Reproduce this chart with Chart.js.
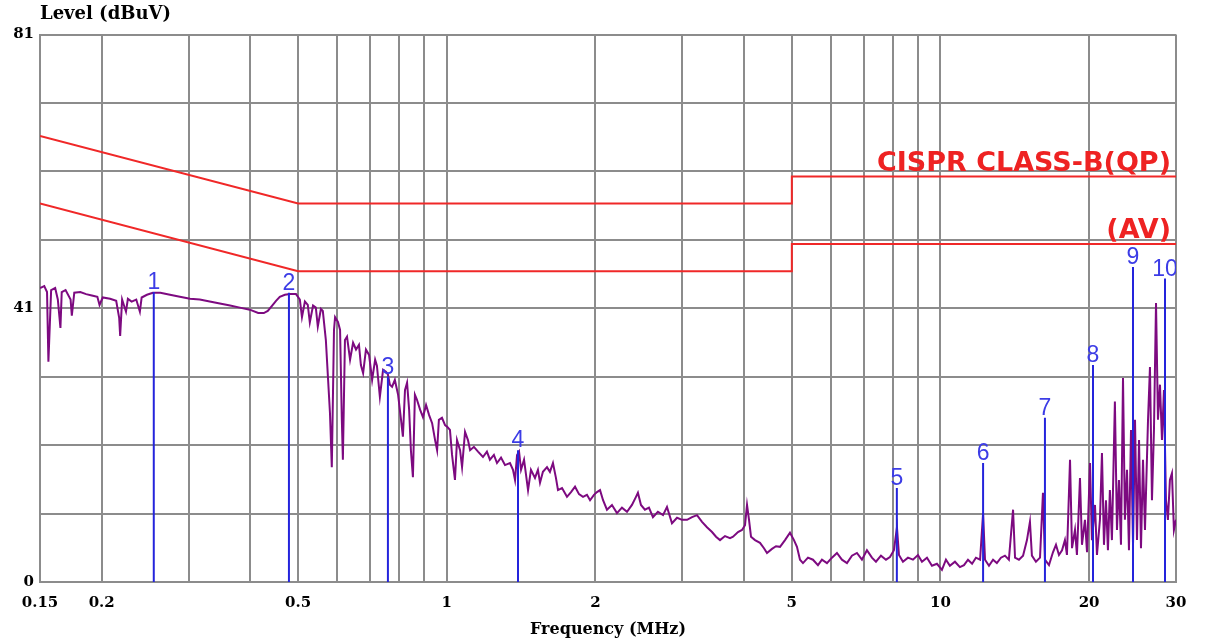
<!DOCTYPE html>
<html>
<head>
<meta charset="utf-8">
<title>Conducted Emission</title>
<script src="https://cdn.jsdelivr.net/npm/chart.js@4.4.1/dist/chart.umd.min.js"></script>
<style>
    html, body { margin: 0; padding: 0; background: #fff; }
    #wrap { width: 1214px; height: 642px; position: relative; }
</style>
</head>
<body>
<div id="wrap"><canvas id="EmissionGraph"></canvas></div>
<script>
// spectrum trace
var freqMHz = [
    0.150, 0.153, 0.155, 0.156, 0.158, 0.161, 0.163, 0.165, 0.166, 0.169, 0.173, 0.174, 0.176, 0.181, 0.186, 0.191, 0.196, 0.198, 0.201, 0.208,
    0.214, 0.217, 0.218, 0.220, 0.224, 0.226, 0.230, 0.235, 0.239, 0.241, 0.247, 0.254, 0.263, 0.275, 0.288, 0.302, 0.316, 0.331, 0.347, 0.364,
    0.381, 0.399, 0.415, 0.426, 0.434, 0.443, 0.451, 0.459, 0.470, 0.481, 0.495,
    0.504, 0.509, 0.516, 0.523, 0.528, 0.536, 0.543, 0.548, 0.556, 0.561, 0.569, 0.575, 0.580, 0.585, 0.591, 0.594, 0.602, 0.608, 0.613, 0.616,
    0.622, 0.628, 0.637, 0.646, 0.655, 0.664, 0.670, 0.677, 0.686, 0.696, 0.706, 0.716, 0.722, 0.732, 0.743, 0.753, 0.760, 0.767, 0.775, 0.785,
    0.797, 0.808, 0.815, 0.823, 0.831, 0.839, 0.846, 0.854, 0.862, 0.870, 0.883, 0.895, 0.908, 0.921, 0.934, 0.947, 0.956, 0.964, 0.978, 0.992,
    1.001, 1.015, 1.025, 1.039, 1.049, 1.064, 1.074, 1.089, 1.104, 1.115,
    1.135, 1.157, 1.184, 1.206, 1.223, 1.246, 1.264, 1.288, 1.312, 1.343, 1.362, 1.375, 1.388, 1.401, 1.414, 1.434, 1.461, 1.481, 1.509, 1.530,
    1.545, 1.566, 1.596, 1.618, 1.641, 1.664, 1.680, 1.712, 1.752, 1.785, 1.819, 1.853, 1.888, 1.923, 1.951, 1.987, 2.015, 2.044, 2.073, 2.111,
    2.161, 2.212, 2.264, 2.318, 2.372, 2.417, 2.439, 2.474, 2.520, 2.568, 2.616, 2.677, 2.742, 2.793, 2.859, 2.927,
    2.996, 3.067, 3.139, 3.213, 3.289, 3.366, 3.446, 3.511, 3.577, 3.661, 3.748, 3.801, 3.890, 3.963, 4.019, 4.057, 4.095, 4.133, 4.211, 4.310,
    4.391, 4.453, 4.558, 4.644, 4.732, 4.843, 4.957, 5.050, 5.121, 5.194, 5.267,
    5.391, 5.518, 5.648, 5.754, 5.890, 6.029, 6.171, 6.316, 6.466, 6.618, 6.774, 6.934, 7.097, 7.265, 7.402, 7.577, 7.756, 7.902, 8.050, 8.164,
    8.241, 8.396, 8.594, 8.797, 9.005, 9.174, 9.391, 9.612, 9.839, 10.07, 10.26, 10.45, 10.70, 10.95, 11.16, 11.37, 11.59, 11.80, 12.03, 12.20,
    12.31, 12.54, 12.78, 13.01, 13.26, 13.51, 13.76, 14.03, 14.16, 14.42, 14.70, 14.97, 15.18, 15.32, 15.61, 15.91, 16.13, 16.28, 16.59, 16.90,
    17.14, 17.38,
    17.63, 17.87, 18.04, 18.30, 18.47, 18.73, 18.90, 19.17, 19.35, 19.62, 19.81, 20.09, 20.27, 20.56, 20.75, 21.04, 21.24, 21.44, 21.64, 21.84,
    22.04, 22.25, 22.56, 22.78, 22.99, 23.21, 23.43, 23.64, 23.87, 24.09, 24.32, 24.55, 24.78, 25.01, 25.25, 25.48, 25.72, 25.96, 26.33, 26.57,
    26.82, 27.07, 27.33, 27.58, 27.84, 28.10, 28.36, 28.63, 28.89, 29.16, 29.44, 29.71, 30.0
];
var levelDbuv = [
    43.5, 43.8, 42.9, 32.6, 43.2, 43.5, 41.8, 37.6, 42.9, 43.2, 41.8, 39.4, 42.8, 42.9, 42.6, 42.4, 42.2, 41.0, 42.1, 41.9,
    41.6, 39.1, 36.4, 41.8, 40.0, 41.9, 41.5, 41.8, 40.0, 42.1, 42.5, 42.8, 42.8, 42.5, 42.2, 41.9, 41.8, 41.5, 41.2, 40.9,
    40.6, 40.3, 39.8, 39.8, 40.1, 40.9, 41.6, 42.2, 42.5, 42.6, 42.6,
    41.8, 39.2, 41.5, 41.0, 38.4, 40.9, 40.6, 37.8, 40.4, 40.1, 35.8, 29.9, 25.0, 17.0, 37.3, 39.2, 38.5, 37.3, 24.0, 18.1,
    35.8, 36.3, 32.9, 35.4, 34.4, 35.1, 32.1, 30.9, 34.4, 33.6, 29.9, 32.9, 32.0, 27.4, 31.4, 31.1, 30.7, 29.2, 28.9, 29.9,
    27.7, 24.0, 21.5, 28.4, 29.5, 25.5, 19.5, 15.5, 27.7, 27.0, 25.5, 24.4, 26.2, 24.7, 23.5, 21.0, 19.5, 24.0, 24.3, 23.2,
    23.0, 22.5, 18.8, 15.1, 21.0, 19.5, 17.0, 22.2, 21.0, 19.5,
    20.0, 19.3, 18.5, 19.3, 18.1, 18.8, 17.6, 18.4, 17.3, 17.6, 16.6, 15.1, 18.8, 19.3, 16.6, 18.1, 13.6, 16.6, 15.4, 16.6,
    14.7, 16.3, 17.0, 16.3, 17.6, 15.4, 13.6, 13.9, 12.6, 13.3, 14.1, 13.0, 12.6, 12.9, 12.1, 12.9, 13.3, 13.6, 12.1, 10.7,
    11.4, 10.2, 11.0, 10.4, 11.4, 12.6, 13.2, 11.4, 10.7, 11.0, 9.6, 10.4, 9.9, 11.1, 8.7, 9.5,
    9.2, 9.2, 9.6, 9.9, 8.9, 8.1, 7.4, 6.7, 6.2, 6.8, 6.5, 6.7, 7.4, 7.7, 8.4, 11.4, 9.2, 6.7, 6.2, 5.8,
    5.0, 4.3, 4.9, 5.3, 5.2, 6.2, 7.3, 6.2, 5.2, 3.3, 2.8,
    3.6, 3.3, 2.5, 3.3, 2.8, 3.6, 4.3, 3.3, 2.8, 3.9, 4.3, 3.3, 4.7, 3.6, 3.0, 3.9, 3.3, 3.7, 4.7, 8.1,
    4.0, 3.0, 3.6, 3.3, 4.0, 3.0, 3.6, 2.4, 2.7, 1.8, 3.3, 2.4, 3.0, 2.2, 2.5, 3.3, 2.7, 3.6, 3.3, 10.2,
    3.3, 2.4, 3.3, 2.8, 3.6, 3.9, 3.3, 10.7, 3.6, 3.3, 3.9, 6.2, 8.9, 3.9, 3.0, 3.6, 13.2, 3.3, 2.5, 4.4,
    5.5, 4.0,
    4.7, 6.2, 4.0, 18.1, 5.0, 7.7, 4.0, 15.4, 5.5, 9.2, 4.4, 17.6, 6.2, 11.4, 4.0, 9.2, 19.1, 5.5, 12.1, 4.7,
    13.6, 6.2, 26.7, 7.7, 15.1, 5.5, 30.2, 9.2, 16.6, 4.7, 22.5, 5.5, 24.0, 6.2, 21.0, 5.0, 18.1, 7.7, 24.0, 31.8,
    12.1, 22.5, 41.3, 24.0, 29.2, 21.0, 28.4, 12.1, 9.2, 15.1, 16.1, 7.7, 9.2
];

// CISPR 22 class B limits
var qpLimitFreq = [0.15, 0.5, 5, 5, 30];
var qpLimitLevel = [66, 56, 56, 60, 60];
var avLimitFreq = [0.15, 0.5, 5, 5, 30];
var avLimitLevel = [56, 46, 46, 50, 50];
var limitNames = ["CISPR CLASS-B(QP)", "(AV)"];

// peak markers
var markerNames = ["1", "2", "3", "4", "5", "6", "7", "8", "9", "10"];
var markerFreq = [0.255, 0.479, 0.760, 1.394, 8.16, 12.20, 16.28, 20.37, 24.55, 28.50];
var markerLevel = [42.9, 42.8, 30.4, 19.5, 13.9, 17.6, 24.3, 32.1, 46.6, 44.9];

// axes
var xGridValues = [0.15, 0.2, 0.3, 0.4, 0.5, 0.6, 0.7, 0.8, 0.9, 1, 2, 3, 4, 5, 6, 7, 8, 9, 10, 20, 30];
var xLabelValues = [0.15, 0.2, 0.5, 1, 2, 5, 10, 20, 30];
var xLabelTexts = ["0.15", "0.2", "0.5", "1", "2", "5", "10", "20", "30"];
var yTickValues = [0, 10.125, 20.25, 30.375, 40.5, 50.625, 60.75, 70.875, 81];
var yTickLabels = ["0", "", "", "", "41", "", "", "", "81"];

function toPoints(xs, ys) {
    return xs.map(function (x, i) {
        return { x: x, y: ys[i] };
    });
}

function markerStems(freqs, levels) {
    var pts = [];
    freqs.forEach(function (f, i) {
        pts.push({ x: f, y: 0 });
        pts.push({ x: f, y: levels[i] });
        pts.push({ x: f, y: null });
    });
    return pts;
}

var textPlugin = {
    id: "emcText",
    afterDatasetsDraw: function (chart) {
        var ctx = chart.ctx;
        var xs = chart.scales.x;
        var ys = chart.scales.y;
        var area = chart.chartArea;

        ctx.save();
        ctx.beginPath();
        ctx.rect(area.left, 0, area.right - area.left, area.bottom);
        ctx.clip();

        // limit names
        ctx.fillStyle = "#ee2222";
        ctx.font = 'bold 27px "DejaVu Sans"';
        ctx.textAlign = "right";
        ctx.textBaseline = "alphabetic";
        ctx.fillText(limitNames[0], area.right - 5, ys.getPixelForValue(qpLimitLevel[4]) - 6);
        ctx.fillText(limitNames[1], area.right - 5, ys.getPixelForValue(avLimitLevel[4]) - 6);

        // marker numbers
        ctx.fillStyle = "#3c3ce6";
        ctx.font = '23px "Liberation Sans"';
        ctx.textAlign = "center";
        markerNames.forEach(function (name, i) {
            var px = xs.getPixelForValue(markerFreq[i]);
            var py = ys.getPixelForValue(markerLevel[i]);
            ctx.fillText(name, px, py - 3);
        });
        ctx.restore();
    }
};

function setupEmissionGraph() {
    var ctx = document.getElementById("EmissionGraph").getContext("2d");
    var labelFont = { family: "DejaVu Serif", size: 15, weight: "bold" };
    var chart = new Chart(ctx, {
        type: "line",
        data: {
            datasets: [{
                label: "Markers",
                data: markerStems(markerFreq, markerLevel),
                borderColor: "#2424dc",
                borderWidth: 2,
                pointRadius: 0,
                spanGaps: false
            },
            {
                label: "QP",
                data: toPoints(qpLimitFreq, qpLimitLevel),
                borderColor: "#f02828",
                borderWidth: 2,
                pointRadius: 0,
                lineTension: 0
            },
            {
                label: "AV",
                data: toPoints(avLimitFreq, avLimitLevel),
                borderColor: "#f02828",
                borderWidth: 2,
                pointRadius: 0,
                lineTension: 0
            },
            {
                label: "Level",
                data: toPoints(freqMHz, levelDbuv),
                borderColor: "#7d0a80",
                borderWidth: 2,
                pointRadius: 0,
                lineTension: 0
            }]
        },
        options: {
            responsive: true,
            maintainAspectRatio: false,
            animation: false,
            layout: { padding: { left: 0, right: 38, top: 0, bottom: 0 } },
            plugins: {
                legend: { display: false },
                tooltip: { enabled: false },
                title: {
                    display: true,
                    text: "Level (dBuV)",
                    align: "start",
                    fullSize: false,
                    color: "#000",
                    font: { family: "DejaVu Serif", size: 18, weight: "bold", lineHeight: 1.2 },
                    padding: { top: 4, bottom: 9 }
                }
            },
            scales: {
                x: {
                    type: "logarithmic",
                    min: 0.15,
                    max: 30,
                    afterBuildTicks: function (axis) {
                        axis.ticks = xGridValues.map(function (v) { return { value: v }; });
                    },
                    afterFit: function (axis) { axis.height = 60; },
                    grid: { color: "#8c8c8c", lineWidth: 2, drawTicks: false },
                    border: { color: "#8c8c8c", width: 2 },
                    ticks: {
                        autoSkip: false,
                        maxRotation: 0,
                        minRotation: 0,
                        padding: 12,
                        color: "#000",
                        font: labelFont,
                        callback: function (value) {
                            for (var i = 0; i < xLabelValues.length; i++) {
                                if (Math.abs(xLabelValues[i] - value) < 1e-6) return xLabelTexts[i];
                            }
                            return "";
                        }
                    },
                    title: {
                        display: true,
                        text: "Frequency (MHz)",
                        color: "#000",
                        font: { family: "DejaVu Serif", size: 16, weight: "bold" },
                        padding: { top: 0, bottom: 3 }
                    }
                },
                y: {
                    min: 0,
                    max: 81,
                    afterBuildTicks: function (axis) {
                        axis.ticks = yTickValues.map(function (v) { return { value: v }; });
                    },
                    afterFit: function (axis) { axis.width = 40; },
                    grid: { color: "#8c8c8c", lineWidth: 2, drawTicks: false },
                    border: { color: "#8c8c8c", width: 2 },
                    ticks: {
                        autoSkip: false,
                        padding: 6,
                        color: "#000",
                        font: labelFont,
                        callback: function (value, index) {
                            return yTickLabels[index];
                        }
                    }
                }
            }
        },
        plugins: [textPlugin]
    });
}

setupEmissionGraph();
</script>
</body>
</html>
